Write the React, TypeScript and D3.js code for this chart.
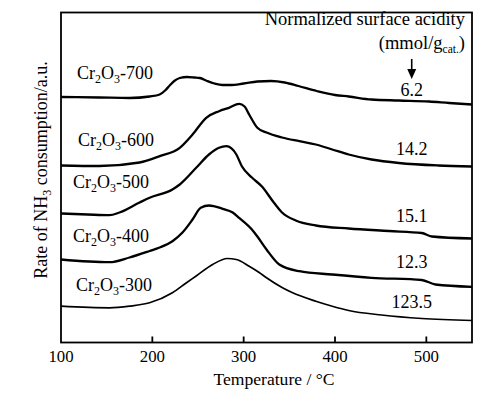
import * as d3 from "d3";

// NH3-TPD profiles, temperature (°C) vs consumption rate (a.u., curves offset for clarity)
const tpd700: [number, number][] = [
  [100, 245.5], [142, 245], [175, 244.5], [197, 246], [208, 248], [214, 252], [219, 257],
  [224, 261.5], [230, 264.5], [238, 265.5], [246, 265], [252, 264.5], [260, 261.5],
  [268, 259], [277, 257.5], [285, 257.5], [300, 259], [315, 261], [330, 261.5],
  [345, 260], [360, 256.5], [380, 251.5], [400, 247.5], [415, 246], [440, 243],
  [470, 242], [503, 241], [525, 239.5], [550, 238],
];
const tpd600: [number, number][] = [
  [100, 177], [142, 176.5], [186, 180], [208, 186.3], [230, 194.7], [244, 208],
  [259, 224.7], [273, 231.3], [284, 234.7], [295, 238.7], [301, 236], [306, 228],
  [315, 214.7], [325, 210], [342, 205], [361, 201.3], [379, 198], [397, 193],
  [415, 188], [440, 183], [470, 179.5], [513, 177], [550, 176],
];
const tpd500: [number, number][] = [
  [100, 129], [129, 128], [153, 127.3], [164, 130], [186, 140], [197, 144.7],
  [222, 153], [230, 158], [248, 174.7], [262, 188], [273, 194.7], [281, 196.3],
  [292, 188], [298, 176.3], [309, 165], [320, 156], [333, 140], [342, 130],
  [357, 122], [379, 117], [415, 114], [459, 111.5], [495, 109.5], [506, 106], [550, 104],
];
const tpd400: [number, number][] = [
  [100, 83], [153, 80.3], [175, 85], [197, 91.5], [208, 95], [222, 101.3], [233, 110],
  [244, 123], [253, 134.7], [262, 137], [277, 133.7], [288, 130], [295, 124.7],
  [309, 113], [315, 106], [325, 93], [339, 78], [361, 71.3], [397, 68], [440, 64.7],
  [495, 62.5], [510, 58], [550, 55.7],
];
const tpd300: [number, number][] = [
  [100, 36.3], [153, 34.7], [175, 36.3], [197, 39.7], [222, 49.7], [237, 59.5],
  [248, 66.5], [266, 78], [282, 84], [292, 83], [306, 76.3], [317, 70], [325, 64.7],
  [342, 55], [353, 50], [379, 41.3], [397, 36.3], [415, 32], [451, 27.5], [495, 24],
  [550, 22],
];

const calcination = ["700", "600", "500", "400", "300"];
const acidity = ["6.2", "14.2", "15.1", "12.3", "123.5"];
const xTicks = [100, 200, 300, 400, 500];

const W = 497;
const H = 396;
const left = 61;
const right = 472;
const top = 12.5;
const bottom = 342.5;
const serif = "Liberation Serif, Times New Roman, serif";

export default function App() {
  const x = d3.scaleLinear().domain([100, 550]).range([left, right]);
  const y = d3.scaleLinear().domain([0, 330]).range([bottom, top]);
  const line = d3
    .line<[number, number]>()
    .x((d) => x(d[0]))
    .y((d) => y(d[1]))
    .curve(d3.curveMonotoneX);

  const series = [tpd700, tpd600, tpd500, tpd400, tpd300];
  const labelX = [77, 78, 73, 73, 76];
  const labelY = [79, 146, 188, 242, 291];
  const valueY = [96, 155, 222, 268, 308];
  const arrowX = x(484);

  return (
    <svg
      width={W}
      height={H}
      style={{ position: "absolute", left: 0, top: 0, background: "#fff", fontFamily: serif }}
    >
      {series.map((s, i) => (
        <path
          key={i}
          d={line(s) ?? ""}
          fill="none"
          stroke="#000"
          strokeWidth={i === 4 ? 1.7 : 2.3}
          strokeLinejoin="round"
        />
      ))}

      <rect x={left} y={top} width={right - left} height={bottom - top} fill="none" stroke="#000" strokeWidth={1.8} />

      {xTicks.map((t) => (
        <g key={t}>
          {t > 100 && <line x1={x(t)} x2={x(t)} y1={bottom} y2={bottom - 6} stroke="#000" strokeWidth={1.8} />}
          <text x={x(t)} y={362} textAnchor="middle" fontSize={16.8}>
            {t}
          </text>
        </g>
      ))}
      <text x={274} y={385} textAnchor="middle" fontSize={17.6}>
        Temperature / °C
      </text>
      <text transform="translate(47,170) rotate(-90)" textAnchor="middle" fontSize={18}>
        Rate of NH<tspan fontSize={12} dy={4}>3</tspan>
        <tspan dy={-4}> consumption/a.u.</tspan>
      </text>

      {calcination.map((c, i) => (
        <text key={c} x={labelX[i]} y={labelY[i]} fontSize={18}>
          Cr<tspan fontSize={12} dy={4}>2</tspan>
          <tspan dy={-4}>O</tspan>
          <tspan fontSize={12} dy={4}>3</tspan>
          <tspan dy={-4}>-{c}</tspan>
        </text>
      ))}

      {acidity.map((a, i) => (
        <text key={a} x={arrowX} y={valueY[i]} textAnchor="middle" fontSize={18}>
          {a}
        </text>
      ))}

      <text x={465} y={25} textAnchor="end" fontSize={18.5}>
        Normalized surface acidity
      </text>
      <text x={465} y={49} textAnchor="end" fontSize={18.5}>
        (mmol/g<tspan fontSize={11.5} dy={4}>cat.</tspan>
        <tspan dy={-4}>)</tspan>
      </text>
      <line x1={arrowX} x2={arrowX} y1={59} y2={70} stroke="#000" strokeWidth={1.6} />
      <path d={`M${arrowX - 4.5},69 L${arrowX + 4.5},69 L${arrowX},79 Z`} fill="#000" />
    </svg>
  );
}
